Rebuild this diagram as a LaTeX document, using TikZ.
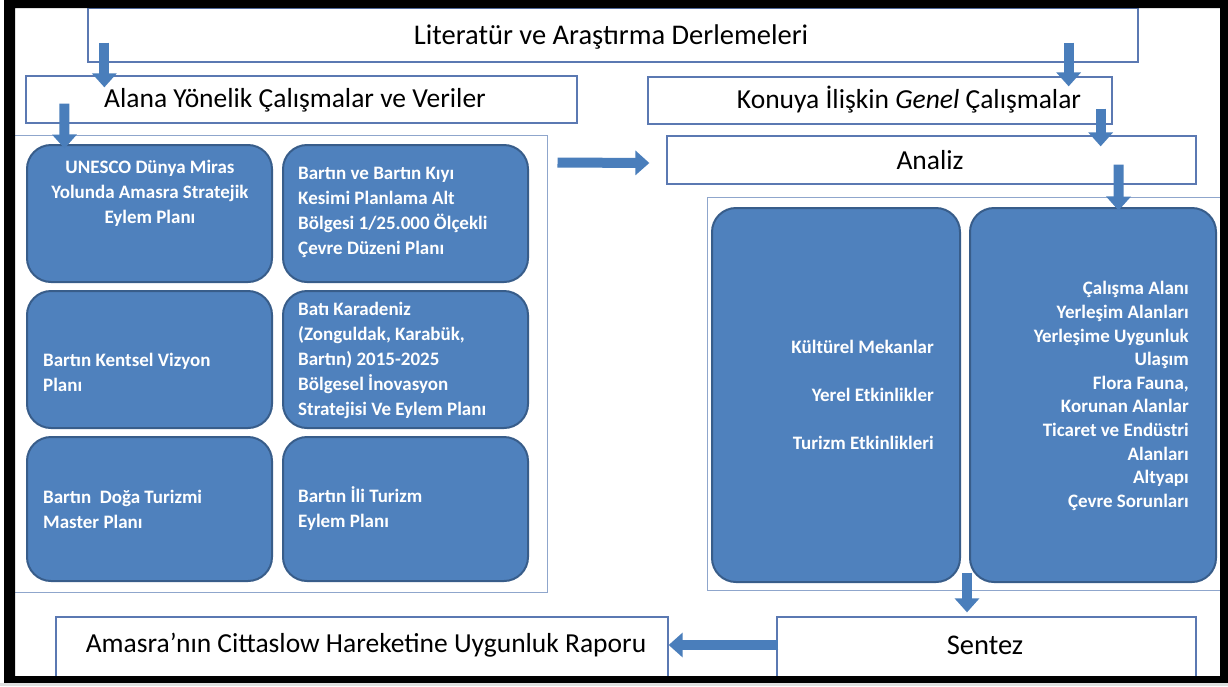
\documentclass[tikz,border=0pt]{standalone}
\usepackage{fontspec}
\setmainfont{Carlito}
\usetikzlibrary{arrows.meta,calc}
\definecolor{boxfill}{HTML}{4F81BD}
\definecolor{boxline}{HTML}{385D8A}
\definecolor{frameline}{HTML}{5B79B2}
\definecolor{contline}{HTML}{8FA6CC}
\definecolor{arrowblue}{HTML}{4A7EBB}
\begin{document}
\begin{tikzpicture}[x=1pt,y=-1pt,
  whitebox/.style={draw=frameline, line width=1.3pt, fill=white, inner sep=0pt},
  titletext/.style={inner sep=0pt, font=\fontsize{27.5}{32}\selectfont},
  container/.style={draw=contline, line width=1pt, inner sep=0pt},
  bluebox/.style={draw=boxline, line width=2pt, fill=boxfill, rounded corners=24pt, inner sep=0pt},
  btext/.style={text=white, font=\bfseries\fontsize{19}{25}\selectfont, inner sep=0pt},
  blockarrow/.style={line width=10pt, draw=arrowblue, -{Triangle[width=24pt,length=14pt]}},
]
\useasboundingbox (0,0) rectangle (1228,686);
\fill[white] (0,0) rectangle (1228,686);

% containers
\node[container, minimum width=535pt, minimum height=457pt] (leftc) at (279.5,363.5) {};
\node[container, minimum width=518pt, minimum height=393pt] (rightc) at (966,393.5) {};

% white boxes
\node[whitebox, minimum width=1050pt, minimum height=54pt] (lit) at (613,35) {};
\node[titletext, font=\fontsize{28.5}{32}\selectfont] (litT) at (611,37) {Literatür ve Araştırma Derlemeleri};
\node[whitebox, minimum width=551pt, minimum height=47pt] (alana) at (301.5,99.5) {};
\node[titletext] (alanaT) at (295,100) {Alana Yönelik Çalışmalar ve Veriler};
\node[whitebox, minimum width=464pt, minimum height=47pt] (konuya) at (880,100.5) {};
\node[titletext] (konuyaT) at (909,100) {Konuya İlişkin \textit{Genel} Çalışmalar};
\node[whitebox, minimum width=529pt, minimum height=48pt] (analiz) at (931.5,160) {};
\node[titletext] (analizT) at (930,160) {Analiz};
\node[whitebox, minimum width=419pt, minimum height=62pt] (sentez) at (986.5,648) {};
\node[titletext, font=\fontsize{28.5}{32}\selectfont] (sentezT) at (985,645) {Sentez};
\node[whitebox, minimum width=612pt, minimum height=64pt] (amasra) at (362,649) {};
\node[titletext] (amasraT) at (366,645) {Amasra’nın Cittaslow Hareketine Uygunluk Raporu};

% blue boxes left
\node[bluebox, minimum width=245pt, minimum height=137pt] (b11) at (149.5,213.5) {};
\node[bluebox, minimum width=245pt, minimum height=137pt] (b12) at (405.5,213.5) {};
\node[bluebox, minimum width=245pt, minimum height=137pt] (b21) at (149.5,359.5) {};
\node[bluebox, minimum width=245pt, minimum height=137pt] (b22) at (405.5,359.5) {};
\node[bluebox, minimum width=245pt, minimum height=144pt] (b31) at (149.5,509) {};
\node[bluebox, minimum width=245pt, minimum height=144pt] (b32) at (405.5,509) {};

\node[btext, align=center] (t11) at (150,193) {UNESCO Dünya Miras\\Yolunda Amasra Stratejik\\Eylem Planı};
\node[btext, align=left, anchor=west] (t12) at (298,212) {Bartın ve Bartın Kıyı\\Kesimi Planlama Alt\\Bölgesi 1/25.000 Ölçekli\\Çevre Düzeni Planı};
\node[btext, align=left, anchor=west] (t21) at (43,372) {Bartın Kentsel Vizyon\\Planı};
\node[btext, align=left, anchor=west] (t22) at (298,360) {Batı Karadeniz\\(Zonguldak, Karabük,\\Bartın) 2015-2025\\Bölgesel İnovasyon\\Stratejisi Ve Eylem Planı};
\node[btext, align=left, anchor=west] (t31) at (43,509) {Bartın\ \ Doğa\ Turizmi\\Master\ Planı};
\node[btext, align=left, anchor=west] (t32) at (298,509) {Bartın İli Turizm\\Eylem\ Planı};

% blue boxes right
\node[bluebox, minimum width=248pt, minimum height=374pt] (r1) at (836,395) {};
\node[bluebox, minimum width=246pt, minimum height=374pt] (r2) at (1093,395) {};
\node[btext, align=right, anchor=east, font=\bfseries\fontsize{19}{48}\selectfont] (tr1) at (934,395) {Kültürel Mekanlar\\Yerel Etkinlikler\\Turizm Etkinlikleri};
\node[btext, align=right, anchor=east, font=\bfseries\fontsize{19}{23.6}\selectfont] (tr2) at (1189,396) {Çalışma Alanı\\Yerleşim Alanları\\Yerleşime Uygunluk\\Ulaşım\\Flora Fauna,\\Korunan Alanlar\\Ticaret ve Endüstri\\Alanları\\Altyapı\\Çevre Sorunları};

% arrows
\draw[blockarrow] ([xshift=17pt,yshift=20pt]lit.south west) -- ([xshift=79pt,yshift=-12pt]alana.north west);
\draw[blockarrow] ([xshift=39pt,yshift=20pt]alana.south west) -- ([xshift=53pt,yshift=-14pt]leftc.north west);
\draw[blockarrow] ([xshift=-70pt,yshift=20pt]lit.south east) -- ([xshift=-44pt,yshift=-10pt]konuya.north east);
\draw[blockarrow] ([xshift=-12pt,yshift=16pt]konuya.south east) -- ([xshift=-96pt,yshift=-11pt]analiz.north east);
\draw[blockarrow] ([xshift=-78pt,yshift=20pt]analiz.south east) -- ([xshift=-107pt,yshift=-14pt]rightc.north east);
\draw[blockarrow] ([xshift=10pt,yshift=-28pt]leftc.north east) -- ([xshift=-17pt,yshift=-3pt]analiz.west);
\draw[blockarrow] ([xshift=1pt,yshift=18pt]rightc.south) -- ([xshift=-19.5pt,yshift=4pt]sentez.north);
\draw[blockarrow] ([xshift=2pt,yshift=3pt]sentez.west) -- ([yshift=4pt]amasra.east);

% black frame
\fill[black, even odd rule] (4,0) rectangle (1228,683) (15,8) rectangle (1220,676);
\fill[black!12] (0,683) rectangle (1228,686);
\end{tikzpicture}
\end{document}
